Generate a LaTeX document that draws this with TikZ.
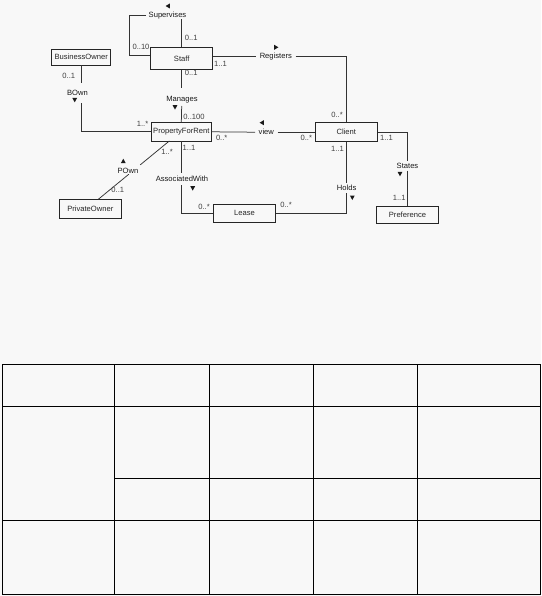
\documentclass[tikz,border=0pt]{standalone}
\usepackage{fontspec}
\setmainfont{Liberation Sans}
\usetikzlibrary{calc}
\definecolor{bgcol}{HTML}{F8F8F8}
\begin{document}
\begin{tikzpicture}[x=1pt,y=-1pt,
  font=\fontsize{7.6}{8}\selectfont,
  box/.style={draw=black!85, line width=0.75pt, inner sep=0pt, text=black!85},
  lbl/.style={inner sep=0pt, text=black!90},
  mult/.style={inner sep=0pt, text=black!75},
  conn/.style={draw=black!80, line width=0.75pt},
  gridline/.style={draw=black, line width=0.9pt},
  tridown/.pic={\fill[black!90] (-2.4,-2.1) -- (2.4,-2.1) -- (0,2.3) -- cycle;},
  triup/.pic={\fill[black!90] (-2.4,2.1) -- (2.4,2.1) -- (0,-2.3) -- cycle;},
  trileft/.pic={\fill[black!90] (2.1,-2.5) -- (2.1,2.5) -- (-2.1,0) -- cycle;},
  triright/.pic={\fill[black!90] (-2.1,-2.5) -- (-2.1,2.5) -- (2.1,0) -- cycle;}
]
\fill[bgcol] (0,0) rectangle (541,596);
\useasboundingbox (0,0) rectangle (541,596);

% classes
\node[box, minimum width=62pt, minimum height=21.6pt] (staff) at (181.7,58.5) {Staff};
\node[box, minimum width=59pt, minimum height=16pt] (bo) at (81.2,57) {BusinessOwner};
\node[box, minimum width=59.3pt, minimum height=18.3pt] (pfr) at (181.3,131.8) {PropertyForRent};
\node[box, minimum width=62pt, minimum height=19pt] (client) at (346.3,132.2) {Client};
\node[box, minimum width=62pt, minimum height=19pt] (po) at (90.3,208.8) {PrivateOwner};
\node[box, minimum width=62.4pt, minimum height=18.3pt] (lease) at (244.5,213.2) {Lease};
\node[box, minimum width=61.6pt, minimum height=17.3pt] (pref) at (407.5,214.7) {Preference};

% association names
\node[lbl, inner xsep=2.5pt] (sup) at (167.5,15.7) {Supervises};
\node[lbl, inner xsep=3.5pt] (reg) at (275.8,56.5) {Registers};
\node[lbl] (man) at (182,99.3) {Manages};
\node[lbl] (bown) at (77.5,92.7) {BOwn};
\node[lbl, inner xsep=3.5pt] (view) at (266.3,132.2) {view};
\node[lbl] (pown) at (128,171) {POwn};
\node[lbl] (assoc) at (182,178.3) {AssociatedWith};
\node[lbl] (holds) at (346.7,187.7) {Holds};
\node[lbl] (states) at (407.5,165.7) {States};

% gap coordinates
\coordinate (svc) at (129,55);
\coordinate (m1) at (staff.south |- 0,88.3);
\coordinate (m2) at (staff.south |- 0,106);
\coordinate (b1) at (bo.south |- 0,83.3);
\coordinate (b2) at (bo.south |- 0,103.3);
\coordinate (p1) at (169.3,141);
\coordinate (p4) at (98.3,199.3);
\coordinate (p2) at ($(p1)!0.41!(p4)$);
\coordinate (p3) at ($(p1)!0.57!(p4)$);
\coordinate (a1) at (pfr.south |- 0,173.3);
\coordinate (a2) at (pfr.south |- 0,185);
\coordinate (h1) at (client.south |- 0,183.3);
\coordinate (h2) at (client.south |- 0,193.3);
\coordinate (s1) at (pref.north |- 0,161);
\coordinate (s2) at (pref.north |- 0,170.5);

% connectors
\draw[conn] (sup.west) -| (svc) -- (staff.west |- svc);
\draw[conn] (staff.north) -- (staff.north |- sup.south);
\draw[conn] (staff.east |- reg) -- (reg.west);
\draw[conn] (reg.east) -| (client.north);
\draw[conn] (staff.south) -- (m1);
\draw[conn] (m2) -- (pfr.north);
\draw[conn] (bo.south) -- (b1);
\draw[conn] (b2) |- (pfr.west);
\draw[conn] (pfr.east) -- (view.west);
\draw[conn] (view.east) -- (client.west);
\draw[conn] (p1) -- (p2);
\draw[conn] (p3) -- (p4);
\draw[conn] (pfr.south) -- (a1);
\draw[conn] (a2) |- (lease.west);
\draw[conn] (client.south) -- (h1);
\draw[conn] (h2) |- (lease.east);
\draw[conn] (client.east) -| (s1);
\draw[conn] (s2) -- (pref.north);

% direction triangles
\pic at (167.7,6) {trileft};
\pic at (276.3,47.3) {triright};
\pic at (175,107.3) {tridown};
\pic at (74.7,100) {tridown};
\pic at (261.7,122.7) {trileft};
\pic at (123.3,161) {triup};
\pic at (192.7,188.3) {tridown};
\pic at (352.3,197.7) {tridown};
\pic at (400,174) {tridown};

% multiplicities
\node[mult] (n1) at (141,47.3) {0..10};
\node[mult] (n2) at (191.2,38.3) {0..1};
\node[mult] (n3) at (220.5,63.5) {1..1};
\node[mult] (n4) at (191.2,72.6) {0..1};
\node[mult] (n5) at (68.8,76) {0..1};
\node[mult] (n6) at (194,116.7) {0..100};
\node[mult] (n7) at (142.5,124) {1..*};
\node[mult] (n8) at (221.7,137.7) {0..*};
\node[mult] (n9) at (167,151.7) {1..*};
\node[mult] (n10) at (189,148.3) {1..1};
\node[mult] (n11) at (117.8,190) {0..1};
\node[mult] (n12) at (204,206.7) {0..*};
\node[mult] (n13) at (286,205) {0..*};
\node[mult] (n14) at (337.5,149) {1..1};
\node[mult] (n15) at (337,115) {0..*};
\node[mult] (n16) at (306.3,137.7) {0..*};
\node[mult] (n17) at (386.5,138) {1..1};
\node[mult] (n18) at (399.2,197.7) {1..1};

% table
\draw[gridline] (2,364.3) rectangle (540,594);
\draw[gridline] (2,406.3) -- (540,406.3);
\draw[gridline] (114,478.3) -- (540,478.3);
\draw[gridline] (2,520) -- (540,520);
\foreach \xx in {114,209.5,313,417.5}
  \draw[gridline] (\xx,364.3) -- (\xx,594);
\end{tikzpicture}
\end{document}
